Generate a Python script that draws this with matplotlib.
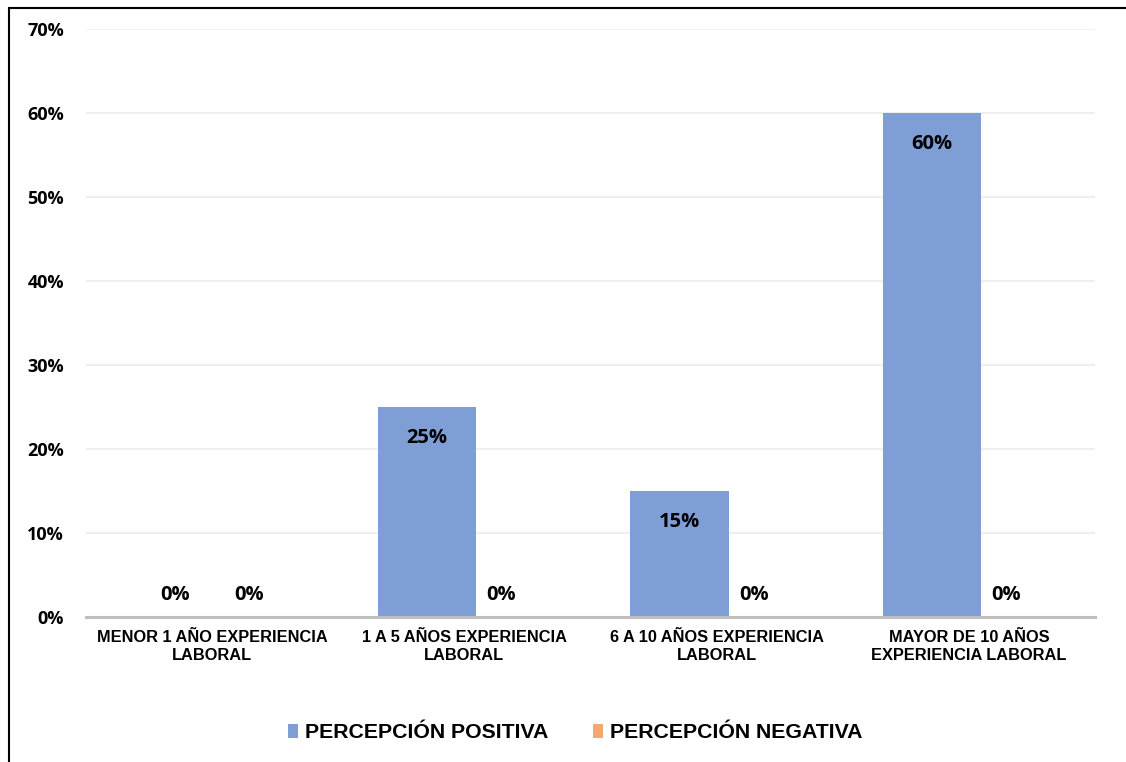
import matplotlib
matplotlib.use("Agg")
import matplotlib.pyplot as plt
import numpy as np
from matplotlib.patches import Rectangle
from matplotlib.ticker import FuncFormatter

categories = ["MENOR 1 AÑO EXPERIENCIA\nLABORAL", "1 A 5 AÑOS EXPERIENCIA\nLABORAL",
              "6 A 10 AÑOS EXPERIENCIA\nLABORAL", "MAYOR DE 10 AÑOS\nEXPERIENCIA LABORAL"]
series_names = ["PERCEPCIÓN POSITIVA", "PERCEPCIÓN NEGATIVA"]
positiva = [0, 25, 15, 60]
negativa = [0, 0, 0, 0]
yticks = [0, 10, 20, 30, 40, 50, 60, 70]

c_pos = "#7F9ED6"
c_neg = "#F4A772"

fig = plt.figure(figsize=(11.26, 7.62), dpi=100)
ax = fig.add_axes([86/1126, 1-617/762, (1095-86)/1126, (617-29)/762])

x = np.arange(len(categories))
w = 0.39
off = 0.147
ax.bar(x - off, positiva, width=w, color=c_pos, zorder=2, label=series_names[0])
ax.bar(x + off, negativa, width=w, color=c_neg, zorder=2, label=series_names[1])

lab_font = dict(family="Open Sans", fontweight="bold", fontsize=14.5, color="black")
for xi, v in zip(x - off, positiva):
    if v > 0:
        ax.text(xi, v - 3.4, f"{v}%", ha="center", va="center_baseline", **lab_font)
    else:
        ax.text(xi, 2.9, f"{v}%", ha="center", va="center_baseline", **lab_font)
for xi, v in zip(x + off, negativa):
    if v > 0:
        ax.text(xi, v - 3.4, f"{v}%", ha="center", va="center_baseline", **lab_font)
    else:
        ax.text(xi, 2.9, f"{v}%", ha="center", va="center_baseline", **lab_font)

ax.set_xlim(-0.5, len(categories) - 0.5)
ax.set_ylim(0, 70)
ax.set_yticks(yticks)
ax.yaxis.set_major_formatter(FuncFormatter(lambda v, p: f"{int(v)}%"))
ax.grid(axis="y", color="#EFEFEF", linewidth=1.5, zorder=0)
ax.set_axisbelow(True)
for s in ["top", "right", "left"]:
    ax.spines[s].set_visible(False)
ax.spines["bottom"].set_color("#BFBFBF")
ax.spines["bottom"].set_linewidth(2.2)
ax.tick_params(axis="both", length=0)
ax.tick_params(axis="y", pad=16)
ax.tick_params(axis="x", pad=9)
for t in ax.get_yticklabels():
    t.set_fontfamily("Open Sans")
    t.set_fontweight("bold")
    t.set_fontsize(13)
ax.set_xticks(x)
ax.set_xticklabels(categories, fontfamily="Liberation Sans", fontweight="bold",
                   fontsize=11.8, linespacing=1.3)

leg = fig.legend(loc="center", bbox_to_anchor=(575/1126, 1-733/762), ncol=2, frameon=False,
                 prop=dict(family="Liberation Sans", weight="bold", size=15.3),
                 handlelength=0.5, handleheight=0.6, handletextpad=0.3, columnspacing=2.1)

fig.add_artist(Rectangle((9/1126, -0.1), 1.2, 1 - 8/762 + 0.1, transform=fig.transFigure,
                         fill=False, edgecolor="black", linewidth=1.5))

fig.savefig("out.png", dpi=100)
